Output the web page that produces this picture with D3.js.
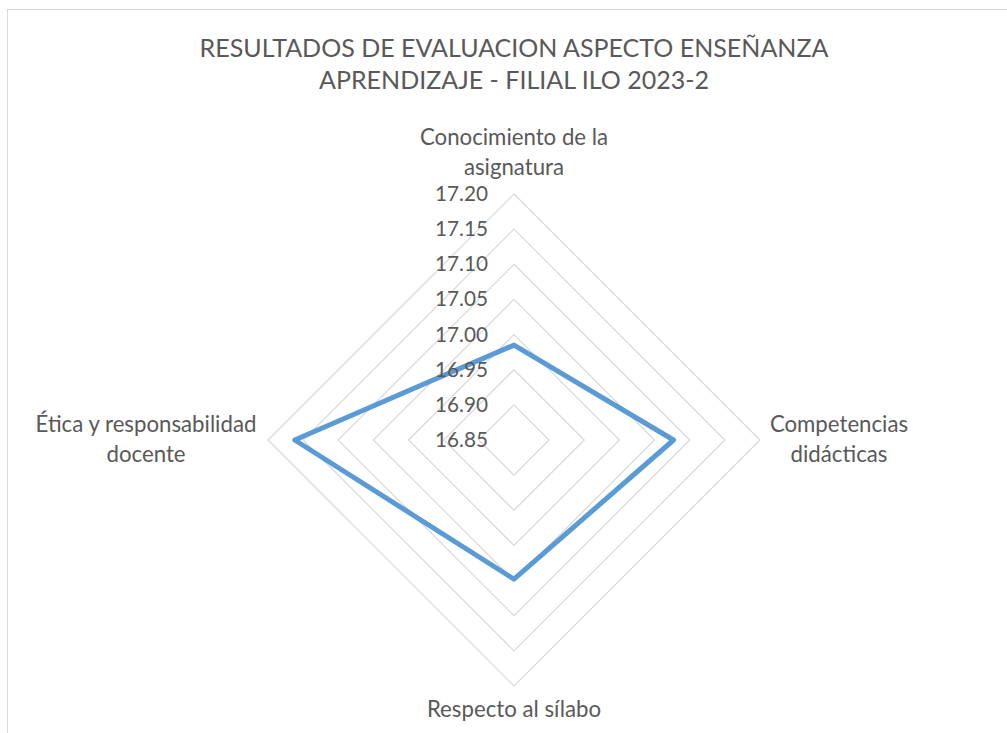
<!DOCTYPE html>
<html><head><meta charset="utf-8">
<script src="https://cdn.jsdelivr.net/npm/d3@7"></script>
<style>html,body{margin:0;padding:0;background:#fff;}svg{display:block;}</style>
</head><body>
<svg id="c" width="1007" height="733"></svg>
<script>
const titleLines = ["RESULTADOS DE EVALUACION ASPECTO ENSEÑANZA", "APRENDIZAJE - FILIAL ILO 2023-2"];
const categories = [["Conocimiento de la", "asignatura"], ["Competencias", "didácticas"], ["Respecto al sílabo"], ["Ética y responsabilidad", "docente"]];
const values = [16.985, 17.077, 17.048, 17.162];
const tickValues = [16.85, 16.90, 16.95, 17.00, 17.05, 17.10, 17.15, 17.20];

const FONT = "Lato, 'Open Sans', sans-serif";
const TXT = "#595959";
const svg = d3.select("#c");
const W = 1007, H = 733;
const cx = 514, cy = 440, R = 246;

svg.append("rect").attr("x", 7.5).attr("y", 9.5).attr("width", W + 10).attr("height", H + 10)
  .attr("fill", "#fff").attr("stroke", "#d9d9d9").attr("stroke-width", 1);

const r = d3.scaleLinear().domain([tickValues[0], tickValues[tickValues.length - 1]]).range([0, R]);
const n = categories.length;
const ang = i => i * 2 * Math.PI / n; // 0 = up, clockwise
const pt = (i, rad) => [cx + rad * Math.sin(ang(i)), cy - rad * Math.cos(ang(i))];

function fit(sel, target) {
  const w = sel.node().getComputedTextLength();
  const s = parseFloat(sel.attr("font-size"));
  sel.attr("font-size", s * target / w);
  return s * target / w;
}

// grid rings
const g = svg.append("g");
tickValues.slice(1).forEach(v => {
  const pts = d3.range(n).map(i => pt(i, r(v)));
  g.append("path").attr("d", d3.line()(pts) + "Z")
    .attr("fill", "none").attr("stroke", "#d9d9d9").attr("stroke-width", 1.2);
});

// series
const rl = d3.lineRadial().angle((d, i) => ang(i)).radius(d => r(d)).curve(d3.curveLinearClosed);
svg.append("path").attr("transform", `translate(${cx},${cy})`).attr("d", rl(values))
  .attr("fill", "none").attr("stroke", "#5b9bd5").attr("stroke-width", 5).attr("stroke-linejoin", "round");

// tick labels
const tk = svg.append("g");
const probe = tk.append("text").attr("font-family", FONT).attr("font-size", 20).text(d3.format(".2f")(tickValues[tickValues.length - 1]));
const tickSize = fit(probe, 53);
probe.remove();
tickValues.forEach(v => {
  tk.append("text").attr("x", 488).attr("y", cy - r(v) + 7)
    .attr("text-anchor", "end").attr("font-family", FONT).attr("font-size", tickSize)
    .attr("fill", TXT).text(d3.format(".2f")(v));
});

// title
const t1 = svg.append("text").attr("x", 514).attr("y", 57).attr("text-anchor", "middle")
  .attr("font-family", FONT).attr("font-weight", 400).attr("font-size", 24).attr("fill", TXT).text(titleLines[0]);
const ts = fit(t1, 629);
svg.append("text").attr("x", 514).attr("y", 89).attr("text-anchor", "middle")
  .attr("font-family", FONT).attr("font-weight", 400).attr("font-size", ts).attr("fill", TXT).text(titleLines[1]);

// category labels
const probe2 = svg.append("text").attr("font-family", FONT).attr("font-size", 18).text(categories[3][0]);
const cs = fit(probe2, 221);
probe2.remove();
const labelPos = [[514, 145], [839, 432], [514, 717], [146, 432]];
categories.forEach((lines, i) => {
  const t = svg.append("text").attr("text-anchor", "middle").attr("font-family", FONT)
    .attr("font-size", cs).attr("fill", TXT);
  lines.forEach((s, j) => t.append("tspan").attr("x", labelPos[i][0]).attr("y", labelPos[i][1] + j * 29.5).text(s));
});
</script>
</body></html>
